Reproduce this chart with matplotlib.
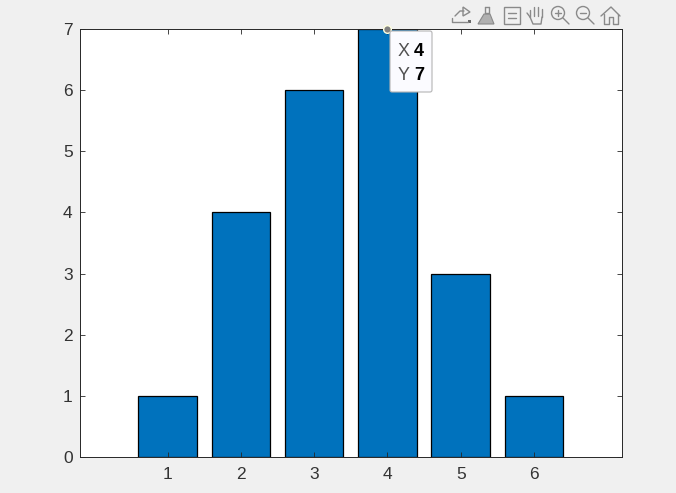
import matplotlib
matplotlib.use("Agg")
import matplotlib.pyplot as plt
from matplotlib.patches import Circle, FancyBboxPatch, Polygon, Rectangle

categories = [1, 2, 3, 4, 5, 6]
values = [1, 4, 6, 7, 3, 1]
y_ticks = [0, 1, 2, 3, 4, 5, 6, 7]
tip_x = 4
tip_y = 7

W, H = 676, 493
plt.rcParams['font.family'] = ['Liberation Sans', 'DejaVu Sans']

fig = plt.figure(figsize=(W / 100, H / 100), dpi=100, facecolor='#F0F0F0')
ax = fig.add_axes([79.6 / W, 1 - 457 / H, 542.4 / W, 428 / H])
ax.bar(categories, values, width=0.8, color='#0072BD', edgecolor='black', linewidth=0.9)
ax.set_xlim(-0.2, 7.2)
ax.set_ylim(0, 7)
ax.set_xticks(categories)
ax.set_yticks(y_ticks)
ax.tick_params(direction='in', top=True, right=True, length=3.9, width=0.6, color='#262626',
               labelcolor='#333333', labelsize=12.5)
ax.tick_params(axis='x', pad=7)
ax.tick_params(axis='y', pad=5)
for s in ax.spines.values():
    s.set_linewidth(0.7)
    s.set_color('#262626')

# overlay in pixel coordinates, for the tooltip box and toolbar icons
ov = fig.add_axes([0, 0, 1, 1], facecolor='none')
ov.set_xlim(0, W)
ov.set_ylim(H, 0)
ov.axis('off')

# data tip
ax.plot([tip_x], [tip_y], 'o', ms=5.5, mfc='#808080', mec='#FFFFE0', mew=1, clip_on=False, zorder=6)
ov.add_patch(FancyBboxPatch((390, 31), 42, 61, boxstyle='round,pad=0,rounding_size=2',
                            fc='#FBFBFF', ec='#B4B4B4', lw=0.8))
ov.text(398, 51, 'X', fontsize=13, color='#505050', ha='left', va='center')
ov.text(414, 51, '4', fontsize=13, color='black', fontweight='bold', ha='left', va='center')
ov.text(398, 75, 'Y', fontsize=13, color='#505050', ha='left', va='center')
ov.text(414, 75, '7', fontsize=13, color='black', fontweight='bold', ha='left', va='center')

# toolbar icons
ICON = '#8A8A8A'
ic = dict(color=ICON, lw=1.0, solid_capstyle='round')


def line(xs, ys):
    ov.plot(xs, ys, **ic)


# export
line([452, 452, 468], [18, 22, 22])
line([455, 460, 464], [16, 11, 11])
ov.add_patch(Polygon([[463, 7], [470, 12], [463, 16]], fc='none', ec=ICON, lw=1))
ov.add_patch(Rectangle((468, 20), 2.5, 3, fc='#6A6A6A', ec='none'))
# brush
line([485, 485, 489, 489], [7, 13, 13, 7])
line([485, 489], [7, 7])
ov.add_patch(Polygon([[484, 14], [490, 14], [494, 24], [478, 24]], fc='#B0B0B0', ec=ICON, lw=0.8))
# data tip icon
ov.add_patch(Rectangle((504, 7), 16, 17, fc='none', ec=ICON, lw=1))
line([508, 516], [13, 13])
line([508, 516], [18, 18])
# hand
line([530, 530], [10, 17])
line([534, 534], [7, 16])
line([538, 538], [7, 16])
line([542, 542], [9, 17])
line([530, 533, 541, 542], [17, 24, 24, 17])
line([530, 527], [17, 13])
# zoom in
ov.add_patch(Circle((558, 13), 6.5, fc='none', ec=ICON, lw=1))
line([555, 561], [13, 13])
line([558, 558], [10, 16])
line([563, 569], [18, 24])
# zoom out
ov.add_patch(Circle((583, 13), 6.5, fc='none', ec=ICON, lw=1))
line([580, 586], [13, 13])
line([588, 594], [18, 24])
# home
line([601, 611, 620], [16, 7, 16])
line([604, 604, 609, 609, 613, 613, 618, 618], [14, 24, 24, 17, 17, 24, 24, 14])

fig.savefig('out.png', dpi=100, facecolor=fig.get_facecolor())
